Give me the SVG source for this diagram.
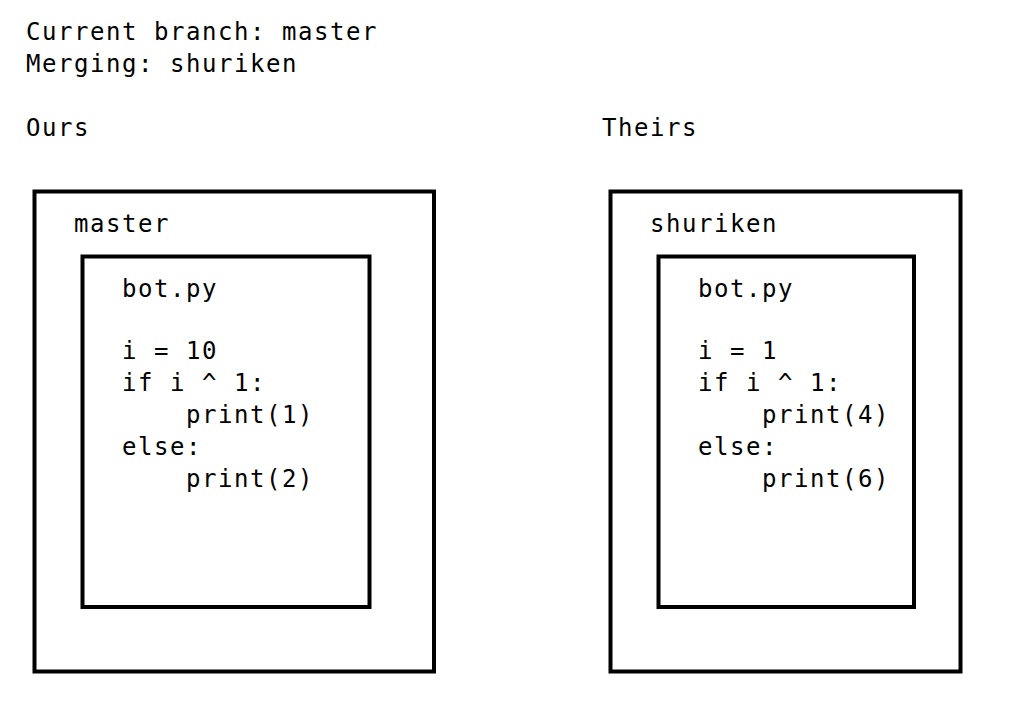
<svg xmlns="http://www.w3.org/2000/svg" width="1020" height="714" viewBox="0 0 1020 714">
<style>
text{font-family:"DejaVu Sans Mono","Liberation Mono",monospace;font-size:24px;letter-spacing:1.55px;fill:#000}
.box{fill:none;stroke:#000;stroke-width:4}
</style>
<rect width="1020" height="714" fill="#fff"/>
<g id="header">
<text x="26" y="40">Current branch: master</text>
<text x="26" y="72">Merging: shuriken</text>
<text x="26" y="136">Ours</text>
<text x="602" y="136">Theirs</text>
</g>
<g id="ours-branch">
<rect class="box" x="34.5" y="191.5" width="399.5" height="480"/>
<text x="74" y="232">master</text>
</g>
<g id="ours-file">
<rect class="box" x="82.5" y="256.5" width="287" height="350.5"/>
<text x="122" y="297">bot.py</text>
<text x="122" y="359">i = 10</text>
<text x="122" y="391">if i ^ 1:</text>
<text x="186" y="423">print(1)</text>
<text x="122" y="455">else:</text>
<text x="186" y="487">print(2)</text>
</g>
<g id="theirs-branch">
<rect class="box" x="610.5" y="191.5" width="350" height="480"/>
<text x="650" y="232">shuriken</text>
</g>
<g id="theirs-file">
<rect class="box" x="658.5" y="256.5" width="255.5" height="350.5"/>
<text x="698" y="297">bot.py</text>
<text x="698" y="359">i = 1</text>
<text x="698" y="391">if i ^ 1:</text>
<text x="762" y="423">print(4)</text>
<text x="698" y="455">else:</text>
<text x="762" y="487">print(6)</text>
</g>
<g id="connectors"/>
</svg>
